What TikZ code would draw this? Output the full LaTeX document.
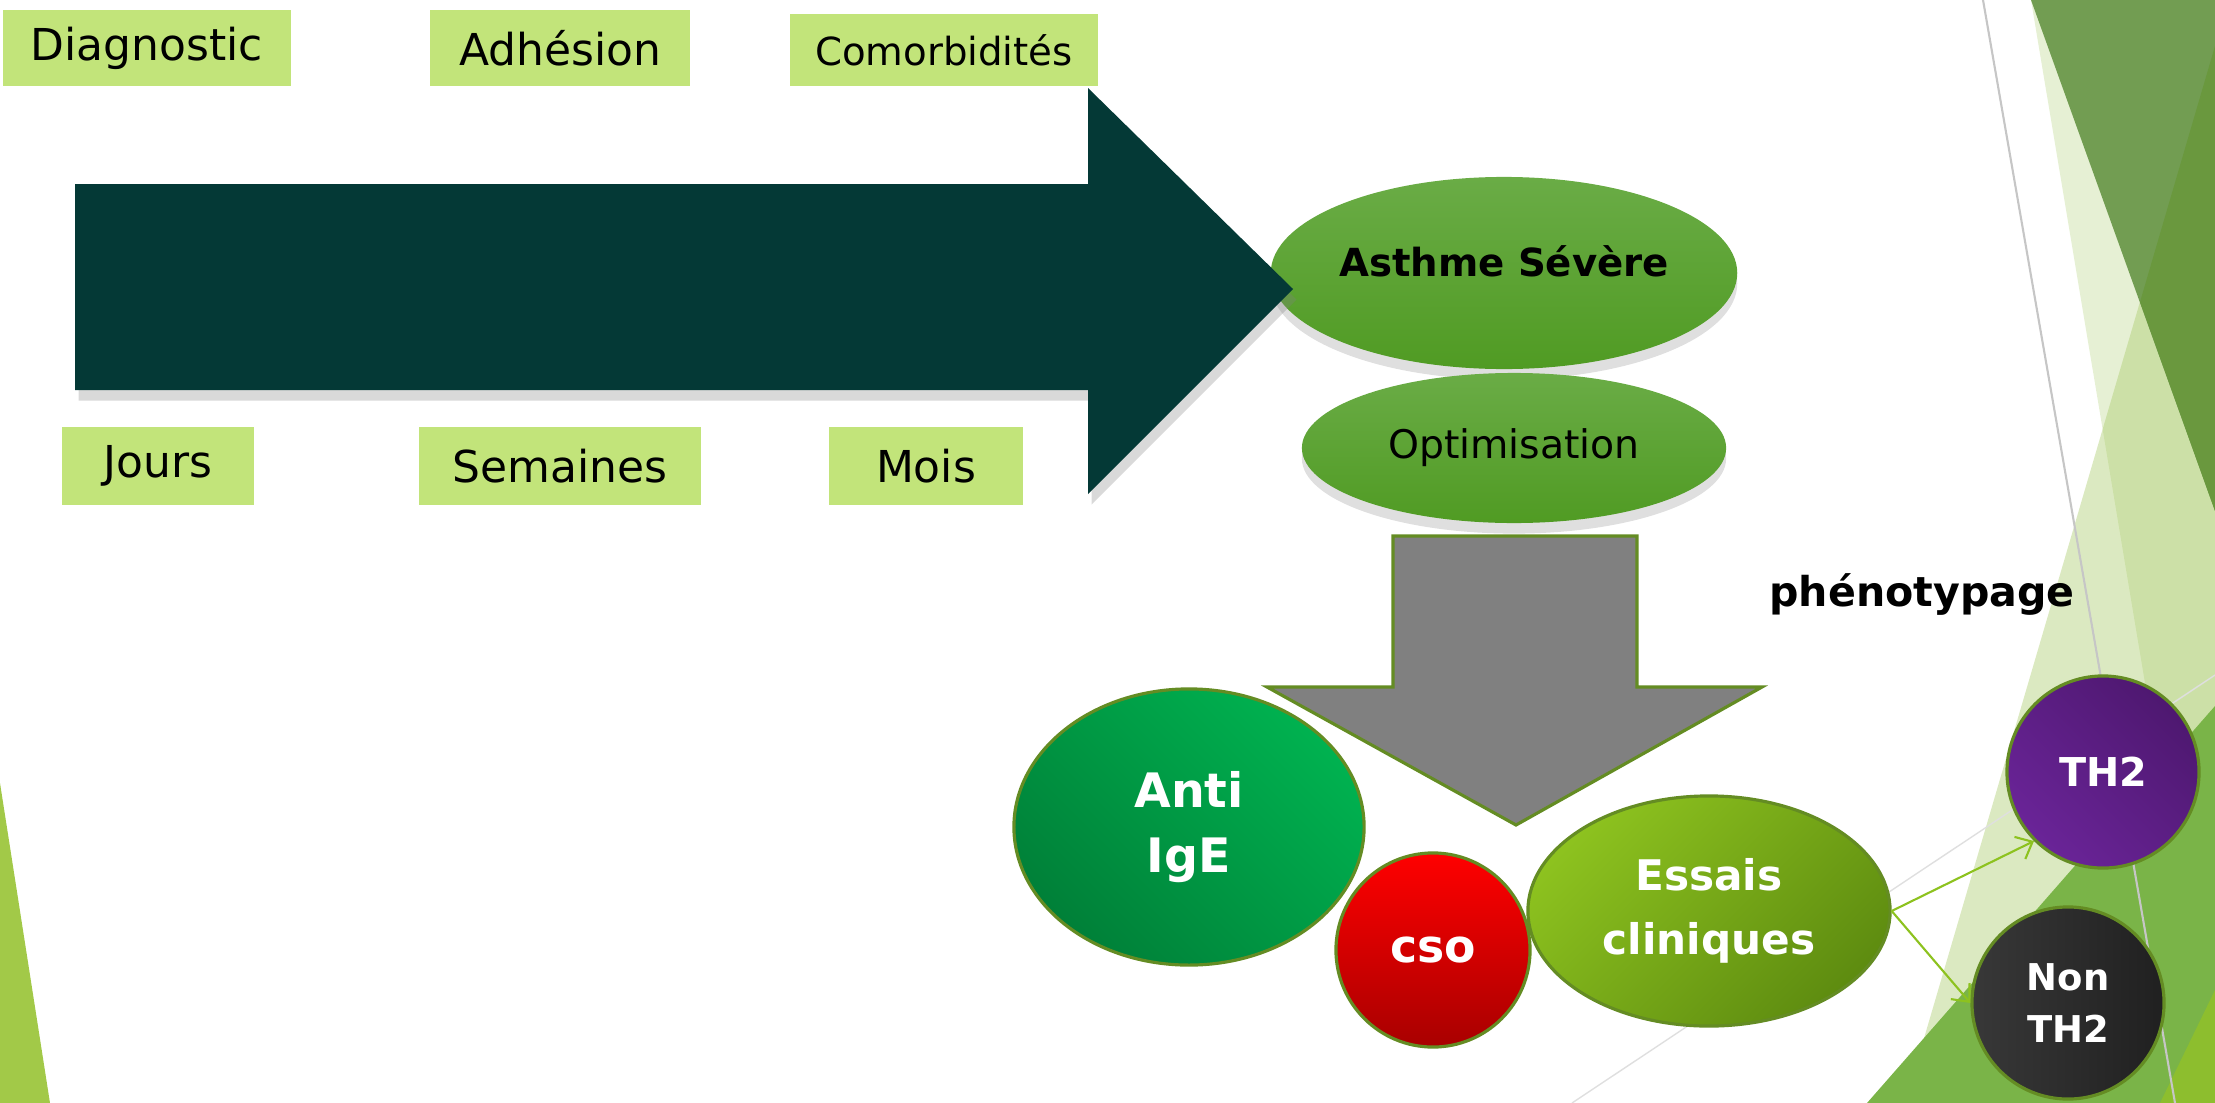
\documentclass[tikz,border=0pt]{standalone}
\usepackage{fontspec}
\setmainfont{DejaVu Sans}
\usetikzlibrary{shapes.geometric,shadows,arrows.meta}

\definecolor{tag}{RGB}{194,228,122}
\definecolor{night}{RGB}{4,57,54}
\definecolor{rim}{RGB}{100,140,35}
\definecolor{leaf}{RGB}{141,194,31}
\definecolor{stagetop}{RGB}{106,172,70}
\definecolor{stagebot}{RGB}{80,155,35}
\definecolor{facetlight}{RGB}{166,201,100}
\definecolor{facetdark}{RGB}{114,157,82}
\definecolor{facetdeep}{RGB}{106,152,62}
\definecolor{facetmid}{RGB}{122,180,72}
\definecolor{facetlime}{RGB}{141,190,46}
\definecolor{facetleft}{RGB}{162,201,72}

\tikzset{%
  tagbox/.style  = {shape=rectangle, fill=tag, inner sep=0pt},%
  stage/.style   = {shape=ellipse, inner sep=0pt,%
                    top color=stagetop, bottom color=stagebot,%
                    drop shadow={opacity=.25, shadow xshift=0pt, shadow yshift=-3pt}},%
  bubble/.style  = {shape=ellipse, draw=rim, line width=0.9pt, inner sep=0pt,%
                    text=white, align=center},%
  split/.style   = {draw=leaf, line width=0.6pt, -{Straight Barb[length=4pt,width=7pt]}}%
}

\begin{document}
\begin{tikzpicture}
  [x=0.01cm, y=-0.01cm, every node/.style={font=\fontsize{12.5}{15}\selectfont}]
  \useasboundingbox (0,0) rectangle (2215,1103);
  % facets
  \fill[facetlight, fill opacity=.4] (2215,46) -- (1905,1103) -- (2215,1103) -- cycle;
  \fill[facetlight, fill opacity=.28] (2031,0) -- (2215,1103) -- (2215,0) -- cycle;
  \fill[facetdark] (2031,0) -- (2215,0) -- (2215,511) -- cycle;
  \fill[facetdeep] (2215,46) -- (2140,302) -- (2215,511) -- cycle;
  \fill[facetmid] (1867,1103) -- (2215,706) -- (2215,1103) -- cycle;
  \fill[facetlime] (2160,1103) -- (2215,990) -- (2215,1103) -- cycle;
  \fill[facetleft] (0,783) -- (50,1103) -- (0,1103) -- cycle;
  \draw[gray!45, line width=0.6pt] (1983,0) -- (2175,1103);
  \draw[gray!25, line width=0.4pt] (1572,1103) -- (2215,675);

  \node[stage, minimum width=4.64cm, minimum height=1.92cm, text depth=0.24cm,%
        font=\bfseries\fontsize{11}{13}\selectfont] (asth) at (1504,273) {Asthme Sévère};
  \node[stage, minimum width=4.24cm, minimum height=1.50cm,%
        font=\fontsize{11.2}{13}\selectfont] (opti) at (1514,448) {Optimisation};

  % time line
  \fill[night, drop shadow={opacity=.3, shadow xshift=1pt, shadow yshift=-3pt}]
    (75,184) -- (1088,184) -- (1088,88) -- (1293,289) -- (1088,494) -- (1088,390) -- (75,390) -- cycle;

  \node[tagbox, minimum width=2.87cm, minimum height=0.76cm] (diag) at (147,48) {Diagnostic};
  \node[tagbox, minimum width=2.59cm, minimum height=0.76cm] (adh) at (560,48) {Adhésion};
  \node[tagbox, minimum width=3.08cm, minimum height=0.72cm,%
        font=\fontsize{11}{13}\selectfont] (como) at (944,50) {Comorbidités};
  \node[tagbox, minimum width=1.92cm, minimum height=0.78cm] (jours) at (158,466) {Jours};
  \node[tagbox, minimum width=2.81cm, minimum height=0.78cm] (sem) at (560,466) {Semaines};
  \node[tagbox, minimum width=1.94cm, minimum height=0.78cm] (mois) at (926,466) {Mois};

  \filldraw[fill=gray, draw=rim, line width=0.9pt]
    (1393,536) -- (1637,536) -- (1637,687) -- (1762,687) -- (1516,825) -- (1267,687) -- (1393,687) -- cycle;

  \node[anchor=base, font=\bfseries\fontsize{11.7}{14}\selectfont] (pheno) at (1922,606) {phénotypage};

  \node[bubble, minimum width=3.50cm, minimum height=2.76cm,%
        top color={rgb,255:red,0;green,178;blue,80}, bottom color={rgb,255:red,0;green,128;blue,56},%
        shading angle=-45, font=\bfseries\fontsize{13.5}{18.5}\selectfont] (anti) at (1189,827) {Anti\\IgE};
  \node[bubble, minimum width=1.94cm, minimum height=1.94cm,%
        top color={rgb,255:red,255;green,0;blue,0}, bottom color={rgb,255:red,168;green,0;blue,0},%
        font=\bfseries\fontsize{13}{15}\selectfont] (cso) at (1433,950) {cso};
  \node[bubble, minimum width=3.62cm, minimum height=2.30cm,%
        top color=leaf, bottom color={rgb,255:red,94;green,140;blue,16},%
        shading angle=45, font=\bfseries\fontsize{12}{18.2}\selectfont] (essai) at (1709,911) {Essais\\cliniques};
  \node[bubble, minimum width=1.92cm, minimum height=1.92cm,%
        top color={rgb,255:red,78;green,24;blue,112}, bottom color={rgb,255:red,106;green,36;blue,152},%
        shading angle=-45, font=\bfseries\fontsize{11.3}{14}\selectfont] (th2) at (2103,772) {TH2};
  \node[bubble, minimum width=1.92cm, minimum height=1.92cm,%
        left color={rgb,255:red,56;green,56;blue,56}, right color={rgb,255:red,32;green,32;blue,32},%
        font=\bfseries\fontsize{10.5}{14.8}\selectfont] (nth2) at (2068,1003) {Non\\TH2};

  \draw[split] (essai.east) -- (th2.225);
  \draw[split] (essai.east) -- (nth2.west);
%  \draw[split] (essai.east) -- (th2);
\end{tikzpicture}
\end{document}
